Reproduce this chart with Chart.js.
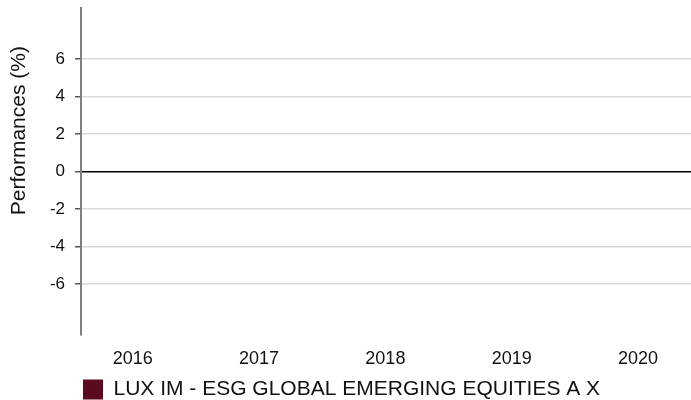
<!DOCTYPE html>
<html>
<head>
<meta charset="utf-8">
<script src="https://cdn.jsdelivr.net/npm/chart.js@4/dist/chart.umd.min.js"></script>
<style>
  html, body { margin: 0; padding: 0; background: #ffffff; }
  #wrap { width: 691px; height: 400px; }
</style>
</head>
<body>
<div id="wrap"><canvas id="c" width="691" height="400"></canvas></div>
<script>
// ---- Data ----
const categories = ['2016', '2017', '2018', '2019', '2020'];
const seriesName = 'LUX IM - ESG GLOBAL EMERGING EQUITIES A X';
const seriesValues = [null, null, null, null, null]; // no bars shown in the reference
const yTickValues = [-6, -4, -2, 0, 2, 4, 6];
const yTitle = 'Performances (%)';

const FONT = 'Liberation Sans, Arial, Helvetica, sans-serif';
const TEXT = '#111111';

const legendShift = {
  id: 'legendShift',
  afterLayout(chart) {
    if (chart.legend) { chart.legend.left = 73; }
  }
};

new Chart(document.getElementById('c'), {
  type: 'bar',
  data: {
    datasets: [{
      label: seriesName,
      data: seriesValues.map((v, i) => ({ x: i, y: v })),
      backgroundColor: '#5a0b1f',
      borderWidth: 0
    }]
  },
  options: {
    responsive: false,
    animation: false,
    devicePixelRatio: 1,
    layout: { padding: { top: 8, left: 0, right: 0, bottom: -10 } },
    plugins: {
      tooltip: { enabled: false },
      legend: {
        display: true,
        position: 'bottom',
        align: 'start',
        labels: {
          boxWidth: 20,
          boxHeight: 20,
          padding: 10,
          color: TEXT,
          font: { family: FONT, size: 21 }
        }
      }
    },
    scales: {
      x: {
        type: 'linear',
        offset: false,
        min: -0.41,
        max: 4.42,
        grid: { display: false, drawTicks: false },
        border: { display: false },
        afterBuildTicks(scale) {
          scale.ticks = categories.map((c, i) => ({ value: i }));
        },
        afterFit(scale) {
          scale.height = 34;
          scale.paddingLeft = 0; scale.paddingRight = 0;
        },
        ticks: {
          padding: 13,
          color: TEXT,
          font: { family: FONT, size: 18 },
          autoSkip: false,
          maxRotation: 0,
          callback: (v) => categories[v]
        }
      },
      y: {
        type: 'linear',
        min: -8.72,
        max: 8.72,
        afterBuildTicks(scale) {
          scale.ticks = yTickValues.map(v => ({ value: v }));
        },
        afterFit(scale) {
          scale.width = 81;
          scale.paddingTop = 0; scale.paddingBottom = 0;
        },
        grid: {
          color: (ctx) => (ctx.tick && ctx.tick.value === 0) ? '#000000' : '#d9d9d9',
          lineWidth: 1.5,
          tickColor: '#555555',
          tickLength: 6,
          drawTicks: true
        },
        border: { display: true, color: '#7f7f7f', width: 2 },
        title: {
          display: true,
          text: '              ' + yTitle,
          color: TEXT,
          font: { family: FONT, size: 21 },
          padding: { top: 7, bottom: 0 }
        },
        ticks: {
          padding: 10,
          color: TEXT,
          font: { family: FONT, size: 17 },
          callback: (v) => String(v)
        }
      }
    }
  },
  plugins: [legendShift]
});
</script>
</body>
</html>
